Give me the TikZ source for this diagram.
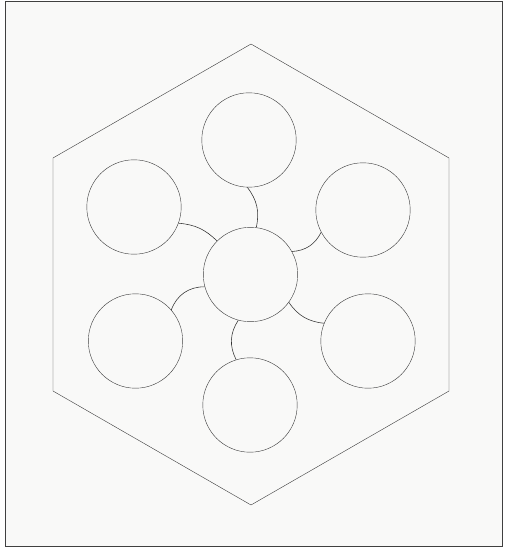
\documentclass[tikz,border=0pt]{standalone}
\usepackage{xcolor}
\usepackage{tikz}
\usetikzlibrary{positioning}

\definecolor{paper}{rgb}{0.975,0.975,0.972}
\definecolor{pencil}{rgb}{0.25,0.25,0.25}

\begin{document}
\begin{tikzpicture}[x=0.5mm,y=-0.5mm,
  cell/.style={circle,draw=pencil,line width=0.6pt,minimum size=47.2mm,inner sep=0pt},
  rim/.style={draw=pencil,line width=0.6pt,line join=miter},
  link/.style={draw=black!80,line width=0.8pt}
]
\useasboundingbox (0,0) rectangle (504,552);
% scanned sheet and its frame
\draw[fill=paper,draw=black!75,line width=1.1pt] (5,1) rectangle (502,546);
% outer hexagon
\coordinate (hn) at (251,44);
\coordinate (hne) at (449,158);
\coordinate (hse) at (449,391);
\coordinate (hs) at (251,505);
\coordinate (hsw) at (53,391);
\coordinate (hnw) at (53,158);
\draw[rim] (hn) -- (hne) -- (hse) -- (hs) -- (hsw) -- (hnw) -- cycle;
% hub and the six cells round it
\node[cell] (hub) at (250.5,274.5) {};
\node[cell] (top) at (249,140) {};
\node[cell] (upleft) at (134,207) {};
\node[cell] (upright) at (363,210) {};
\node[cell] (lowleft) at (135.5,341) {};
\node[cell] (lowright) at (368,341) {};
\node[cell] (bottom) at (250,405) {};
% short curved links
\draw[link] (top.268) to[bend left=25] (hub.83);
\draw[link] (upleft.340) to[bend left=20] (hub.135);
\draw[link] (hub.29) to[bend right=30] (upright.208);
\draw[link] (lowleft.41) to[bend left=35] (hub.195);
\draw[link] (hub.324) to[bend right=25] (lowright.158);
\draw[link] (hub.255) to[bend right=30] (bottom.107);
\end{tikzpicture}
\end{document}
